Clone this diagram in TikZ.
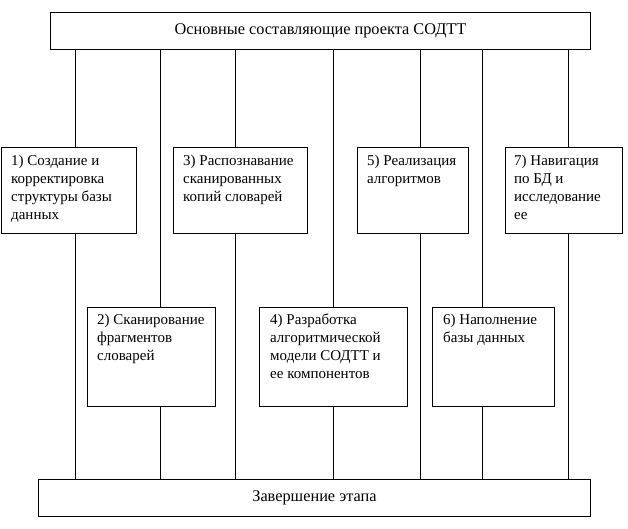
\documentclass[tikz,border=0pt]{standalone}
\usepackage{fontspec}
\setmainfont{Liberation Serif}
\begin{document}
\begin{tikzpicture}[x=1pt,y=-1pt,
  frame/.style={draw=black, line width=0.9pt, fill=white, inner sep=0pt, anchor=north west},
  wire/.style={draw=black, line width=0.9pt},
  boxtext/.style={inner sep=0pt, anchor=north west, align=left, font=\fontsize{15}{18}\selectfont},
  headtext/.style={inner sep=0pt, font=\fontsize{16.3}{18}\selectfont}]
\useasboundingbox (0,0) rectangle (628,529);
% top and bottom bars
\node[frame, minimum width=540pt, minimum height=37pt] (top) at (50,12) {};
\node[frame, minimum width=552pt, minimum height=37pt] (bot) at (38,479) {};
\node[headtext] (toptext) at (top.center) {Основные составляющие проекта СОДТТ};
\node[headtext] (bottext) at (bot.center) {Завершение этапа};
% vertical lines
\foreach \i/\x in {1/75,2/160,3/235,4/333,5/420,6/482,7/568}{
  \coordinate (c\i) at (\x,0);
  \draw[wire] (top.south -| c\i) -- (bot.north -| c\i);
}
% upper row boxes
\node[frame, minimum width=135pt, minimum height=86pt] (b1) at (1,147) {};
\node[frame, minimum width=134pt, minimum height=86pt] (b3) at (173,147) {};
\node[frame, minimum width=111pt, minimum height=86pt] (b5) at (357,147) {};
\node[frame, minimum width=117pt, minimum height=86pt] (b7) at (505,147) {};
% lower row boxes
\node[frame, minimum width=128pt, minimum height=99pt] (b2) at (87,307) {};
\node[frame, minimum width=148pt, minimum height=99pt] (b4) at (259,307) {};
\node[frame, minimum width=122pt, minimum height=99pt] (b6) at (432,307) {};
% texts
\node[boxtext] (t1) at ([xshift=10pt,yshift=-8pt]b1.north west) {1) Создание и\\корректировка\\структуры базы\\данных};
\node[boxtext] (t3) at ([xshift=10pt,yshift=-8pt]b3.north west) {3) Распознавание\\сканированных\\копий словарей};
\node[boxtext] (t5) at ([xshift=10pt,yshift=-8pt]b5.north west) {5) Реализация\\алгоритмов};
\node[boxtext] (t7) at ([xshift=9pt,yshift=-8pt]b7.north west) {7) Навигация\\по БД и\\исследование\\ее};
\node[boxtext] (t2) at ([xshift=10pt,yshift=-7pt]b2.north west) {2) Сканирование\\фрагментов\\словарей};
\node[boxtext] (t4) at ([xshift=11pt,yshift=-7pt]b4.north west) {4) Разработка\\алгоритмической\\модели СОДТТ и\\ее компонентов};
\node[boxtext] (t6) at ([xshift=11pt,yshift=-7pt]b6.north west) {6) Наполнение\\базы данных};
\end{tikzpicture}
\end{document}
